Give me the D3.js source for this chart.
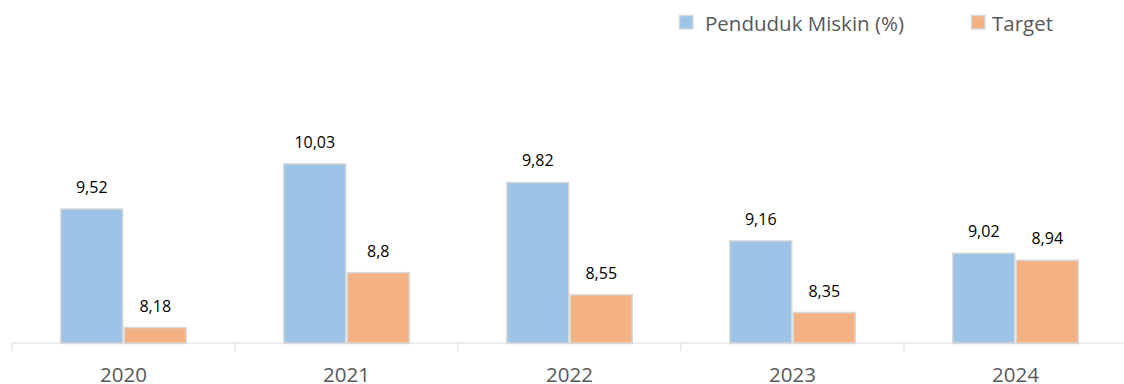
<!DOCTYPE html>
<html>
<head>
<meta charset="utf-8">
<script src="https://cdn.jsdelivr.net/npm/d3@7"></script>
<style>
  html, body { margin: 0; padding: 0; background: #fff; }
  svg { display: block; font-family: "Open Sans", sans-serif; }
</style>
</head>
<body>
<svg id="chart" width="1124" height="384"></svg>
<script>
// Persentase penduduk miskin vs target, 2020–2024
const years = ["2020", "2021", "2022", "2023", "2024"];
const pendudukMiskin = [9.52, 10.03, 9.82, 9.16, 9.02];
const target = [8.18, 8.8, 8.55, 8.35, 8.94];
const seriesNames = ["Penduduk Miskin (%)", "Target"];
const seriesColors = ["#9DC3E6", "#F4B183"];

const svg = d3.select("#chart");
const W = 1124;
const baseY = 343.5;

const x = d3.scaleBand().domain(years).range([12, 12 + 223 * years.length]).paddingInner(0).paddingOuter(0);
const y = d3.scaleLinear().domain([8, 10.5]).range([baseY, baseY - 2.5 * 88.5]);

const inner = d3.scaleBand().domain(seriesNames).range([48, 48 + 127]);

const rows = years.map((yr, i) => ({ year: yr, values: [pendudukMiskin[i], target[i]] }));
const fmt = v => String(v).replace(".", ",");

// bars
const groups = svg.append("g").selectAll("g").data(rows).join("g")
  .attr("transform", d => `translate(${x(d.year)},0)`);

groups.selectAll("rect").data(d => d.values.map((v, k) => ({ v, k })))
  .join("rect")
  .attr("x", d => inner(seriesNames[d.k]) + 0.75)
  .attr("width", inner.bandwidth() - 1.5)
  .attr("y", d => y(d.v))
  .attr("height", d => baseY - y(d.v))
  .attr("fill", d => seriesColors[d.k])
  .attr("stroke", "#D9D9D9")
  .attr("stroke-width", 1.5);

groups.selectAll("text").data(d => d.values.map((v, k) => ({ v, k })))
  .join("text")
  .attr("x", d => inner(seriesNames[d.k]) + inner.bandwidth() / 2)
  .attr("y", d => y(d.v) - 16)
  .attr("text-anchor", "middle")
  .attr("font-size", 16)
  .attr("fill", "#000")
  .text(d => fmt(d.v));

// category axis
const axis = svg.append("g").attr("transform", `translate(0,${baseY - 0.5})`)
  .call(d3.axisBottom(x).tickSize(0).tickPadding(0));
axis.select(".domain").remove();
axis.selectAll(".tick text")
  .attr("y", 38.5)
  .attr("dy", 0)
  .attr("font-size", 20.5)
  .attr("font-family", "Open Sans, sans-serif")
  .attr("fill", "#595959");
axis.append("line").attr("x1", 12).attr("x2", W).attr("y1", 0).attr("y2", 0)
  .attr("stroke", "#D9D9D9").attr("stroke-width", 1);
axis.selectAll(".sep").data(years.map(yr => x(yr))).join("line")
  .attr("class", "sep")
  .attr("x1", d => d).attr("x2", d => d)
  .attr("y1", 0).attr("y2", 8)
  .attr("stroke", "#D9D9D9").attr("stroke-width", 1);

// legend
const legendPos = [679.5, 971.5];
const legend = svg.append("g").selectAll("g").data(seriesNames).join("g")
  .attr("transform", (d, i) => `translate(${legendPos[i]},15.5)`);
legend.append("rect").attr("width", 13.5).attr("height", 13.5)
  .attr("fill", (d, i) => seriesColors[i])
  .attr("stroke", "#D9D9D9").attr("stroke-width", 1.5);
legend.append("text")
  .attr("x", (d, i) => i === 0 ? 25.5 : 20.5)
  .attr("y", 15.5)
  .attr("font-size", 20.5)
  .attr("fill", "#595959")
  .text(d => d);
</script>
</body>
</html>
